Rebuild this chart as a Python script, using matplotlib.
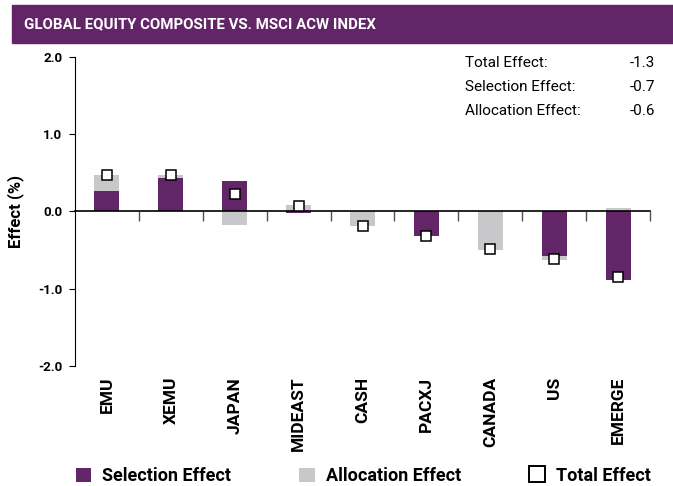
import matplotlib.pyplot as plt
from matplotlib.patches import Patch
from matplotlib.lines import Line2D
from matplotlib.transforms import blended_transform_factory
import numpy as np

PURPLE = "#622567"
GREY = "#c8c8ca"

regions = ["EMU", "XEMU", "JAPAN", "MIDEAST", "CASH", "PACXJ", "CANADA", "US", "EMERGE"]
selection = [0.26, 0.43, 0.40, -0.02, 0.0, -0.32, 0.0, -0.57, -0.89]
allocation = [0.21, 0.04, -0.17, 0.09, -0.19, 0.0, -0.50, -0.06, 0.04]
total = [0.47, 0.47, 0.23, 0.07, -0.19, -0.32, -0.49, -0.62, -0.85]

summary_labels = ["Total Effect:", "Selection Effect:", "Allocation Effect:"]
summary_values = ["-1.3", "-0.7", "-0.6"]

plt.rcParams['font.family'] = ['Roboto', 'DejaVu Sans']

fig = plt.figure(figsize=(6.73, 4.86), dpi=100)
ax = fig.add_axes([75 / 673, 1 - 366 / 486, 575 / 673, 309 / 486])

x = np.arange(len(regions)) + 0.5
sel = np.array(selection)
alloc = np.array(allocation)

# excel style stacking: positives stack up, negatives stack down
alloc_bottom = np.where(np.sign(alloc) == np.sign(sel), sel, 0.0)

w = 0.39
ax.bar(x, sel, width=w, color=PURPLE, zorder=2)
ax.bar(x, alloc, width=w, bottom=alloc_bottom, color=GREY, zorder=2)
ax.plot(x, total, linestyle='none', marker='s', markersize=7.5,
        markerfacecolor='white', markeredgecolor='black', markeredgewidth=1.1, zorder=4)

ax.set_xlim(0, len(regions))
ax.set_ylim(-2, 2)
ax.set_yticks([2, 1, 0, -1, -2])
ax.set_yticklabels(["2.0", "1.0", "0.0", "-1.0", "-2.0"], fontweight='bold', fontsize=9.5)
ax.tick_params(axis='y', direction='out', length=4, width=0.8, pad=5)

ax.spines['top'].set_visible(False)
ax.spines['right'].set_visible(False)
ax.spines['bottom'].set_position(('data', 0))
ax.spines['bottom'].set_linewidth(1.2)
ax.spines['bottom'].set_zorder(3)
ax.set_xticks(np.arange(1, len(regions) + 1))
ax.set_xticklabels([])
ax.tick_params(axis='x', direction='out', length=7, width=1, color='#555555')

trans = blended_transform_factory(ax.transData, ax.transAxes)
for xi, name in zip(x, regions):
    ax.text(xi, -0.035, name, transform=trans, rotation=90, ha='center', va='top',
            fontsize=12.5, fontweight='bold')

ax.set_ylabel("Effect (%)", fontsize=12, fontweight='bold', labelpad=10)

# title band
fig.patches.append(plt.Rectangle((12 / 673, 1 - 43 / 486), 1, 38 / 486,
                                 transform=fig.transFigure, color=PURPLE, zorder=0))
fig.text(24 / 673, 1 - 24.5 / 486, "GLOBAL EQUITY COMPOSITE VS. MSCI ACW INDEX",
         color='white', fontsize=10.8, fontweight='bold', va='center', ha='left')

for i, (lab, val) in enumerate(zip(summary_labels, summary_values)):
    yy = 1 - (63 + 24 * i) / 486
    fig.text(465 / 673, yy, lab, fontsize=11, va='center', ha='left')
    fig.text(655 / 673, yy, val, fontsize=11, va='center', ha='right')

handles = [
    Patch(facecolor=PURPLE, edgecolor='none'),
    Patch(facecolor=GREY, edgecolor='none'),
    Line2D([], [], linestyle='none', marker='s', markersize=11,
           markerfacecolor='white', markeredgecolor='black', markeredgewidth=1.4),
]
fig.legend(handles, ["Selection Effect", "Allocation Effect", "Total Effect"],
           loc='center', bbox_to_anchor=(363 / 673, 1 - 476 / 486), ncol=3,
           frameon=False, prop={'size': 13, 'weight': 'bold'},
           handlelength=0.85, handleheight=0.85, handletextpad=0.6, columnspacing=3.8)

fig.savefig("out.png", dpi=100)
